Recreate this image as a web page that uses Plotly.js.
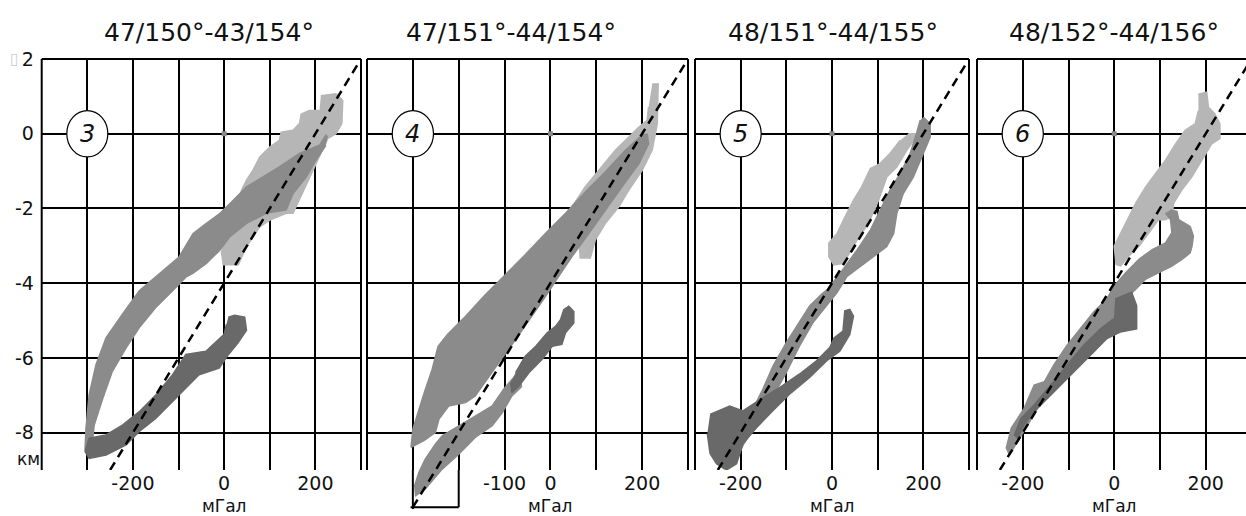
<!DOCTYPE html>
<html>
<head>
<meta charset="utf-8">
<script src="https://cdn.plot.ly/plotly-3.0.1.min.js"></script>
<style>html,body{margin:0;padding:0;background:#fff;}#chart{width:1246px;height:516px;}</style>
</head>
<body>
<div id="chart"></div>
<script>
// ---------- DATA (mGal on x, km on y) ----------
const panelTitles = ['47/150°-43/154°', '47/151°-44/154°', '48/151°-44/155°', '48/152°-44/156°'];
const panelNumbers = ['3', '4', '5', '6'];
const yTickVals = [-8, -6, -4, -2, 0, 2];
const yTickText = ['-8', '-6', '-4', '-2', '0', '2'];
const xGridWide = [-400, -300, -200, -100, 0, 100, 200, 300];
const xGridNarrow = [-300, -200, -100, 0, 100, 200, 300];
const xLabelsP1 = ['-200', '0', '200'];
const xLabelsP2 = ['-100', '0', '200'];
const xLabelsP3 = ['-200', '0', '200'];
const xLabelsP4 = ['-200', '0', '200'];

// reference (dashed) line
const refLineX = [-250, 300];
const refLineY = [-9, 2];
const refLine2X = [-300, 300];
const refLine2Y = [-10, 2];
// small bracket under the second panel
const bracketX = [-300, -300, null, -305, -200, null, -200, -200];
const bracketY = [-9, -10.05, null, -10, -10, null, -10, -9];
// origin point
const originX = [0];
const originY = [0];

// Panel "3"
const p1LightX = [212,245,260,258,245,227,151,136,100,78,49,31,-2,-6,12,38,49,63,78,100,121,125,151,165,169,187,209];
const p1LightY = [1.02,1.07,0.89,0.27,0,-0.13,-2.13,-2.13,-2.31,-2.49,-3.02,-3.51,-3.51,-3.16,-2.67,-1.51,-1.24,-0.98,-0.62,-0.36,-0.18,0.04,0.09,0.27,0.53,0.62,0.62];
const p1MidX = [227,223,209,165,121,85,49,20,-9,-39,-68,-99,-150,-186,-223,-259,-281,-296,-303,-305,-298,-288,-285,-266,-245,-215,-186,-150,-113,-84,-68,-39,-9,12,49,92,136,151,180,201,223];
const p1MidY = [-0.09,-0.04,-0.31,-0.53,-0.89,-1.16,-1.42,-1.78,-2.13,-2.40,-2.67,-3.30,-3.84,-4.20,-4.83,-5.46,-6.18,-6.99,-7.89,-8.45,-8.55,-8.15,-7.80,-7.08,-6.36,-5.73,-5.19,-4.65,-4.20,-3.84,-3.73,-3.47,-3.11,-2.76,-2.40,-2.13,-2.04,-1.60,-1.16,-0.71,-0.31];
const p1DarkX = [9,23,45,49,30,10,-11,-55,-99,-150,-186,-215,-259,-296,-305,-296,-259,-223,-186,-150,-113,-84,-40,0,5];
const p1DarkY = [-4.91,-4.86,-4.91,-5.26,-5.60,-5.90,-6.27,-6.45,-6.99,-7.62,-7.97,-8.33,-8.60,-8.69,-8.50,-8.15,-8.06,-7.80,-7.44,-6.99,-6.45,-5.91,-5.82,-5.37,-5.10];

// Panel "4"
const p2LightX = [222,235,233,222,200,171,149,120,98,87,65,62,33,47,76,105,142,171,193,211,214];
const p2LightY = [1.33,1.33,0.27,-0.44,-0.98,-1.51,-1.96,-2.40,-2.84,-3.33,-3.33,-2.84,-2.31,-1.96,-1.42,-0.98,-0.44,-0.09,0.18,0.36,0.71];
const p2MidX = [203,164,120,76,33,-11,-55,-98,-142,-185,-225,-245,-258,-275,-289,-300,-304,-276,-251,-243,-222,-185,-164,-134,-105,-76,-40,-11,18,47,84,120,156,193,214,211];
const p2MidY = [0,-0.44,-1.02,-1.56,-2.13,-2.67,-3.24,-3.78,-4.31,-4.89,-5.38,-5.69,-6.31,-6.93,-7.47,-7.91,-8.40,-8.22,-8.0,-7.64,-7.29,-7.20,-7.02,-6.49,-6.0,-5.51,-4.89,-4.36,-3.82,-3.29,-2.67,-2.04,-1.42,-0.80,-0.27,0];
const p2BandX = [-62,-84,-102,-127,-164,-200,-236,-251,-273,-287,-296,-294,-273,-236,-200,-164,-127,-105,-84,-62];
const p2BandY = [-6.31,-6.58,-6.84,-7.29,-7.56,-7.82,-8.09,-8.31,-8.71,-9.07,-9.42,-9.69,-9.51,-8.98,-8.58,-8.13,-7.82,-7.47,-7.02,-6.76];
const p2DarkX = [-76,-55,-32,-7,11,22,29,40,51,51,33,25,4,-18,-47,-69,-84,-87];
const p2DarkY = [-6.4,-5.96,-5.69,-5.33,-5.16,-4.98,-4.71,-4.62,-4.76,-5.07,-5.33,-5.64,-5.69,-6.04,-6.40,-6.76,-6.93,-6.67];

// Panel "5"
const p3LightX = [167,185,182,164,142,120,102,80,55,25,4,-7,-7,11,25,47,65,84,105,127,149];
const p3LightY = [0,0,-0.13,-0.44,-0.89,-1.16,-1.78,-2.40,-2.84,-3.47,-3.51,-3.29,-2.93,-2.67,-2.31,-1.78,-1.42,-0.93,-0.80,-0.53,-0.18];
const p3MidX = [193,185,171,149,127,105,84,55,18,-11,-23,-49,-78,-100,-129,-151,-173,-202,-224,-238,-216,-195,-165,-136,-100,-71,-42,-12,11,33,62,91,120,135,142,156,178,200,215,215,200];
const p3MidY = [0.36,0,-0.53,-1.07,-1.51,-2.04,-2.58,-3.11,-3.73,-4.18,-4.30,-4.61,-5.15,-5.59,-6.21,-6.83,-7.36,-7.99,-8.61,-8.96,-8.87,-8.34,-7.72,-7.19,-6.39,-5.68,-5.06,-4.61,-4.25,-3.82,-3.56,-3.29,-3.02,-2.67,-2.13,-1.60,-1.16,-0.53,-0.09,0.27,0.44];
const p3DarkX = [-267,-224,-195,-151,-114,-71,-34,-5,5,24,28,39,47,39,17,-12,-49,-93,-129,-165,-195,-209,-231,-253,-267,-273];
const p3DarkY = [-7.51,-7.29,-7.42,-7.06,-6.79,-6.43,-6.08,-5.72,-5.46,-5.28,-4.74,-4.70,-4.88,-5.37,-5.82,-6.08,-6.52,-6.97,-7.41,-7.86,-8.30,-8.83,-9.0,-8.83,-8.56,-8.03];

// Panel "6"
const p4LightX = [184,202,206,220,231,231,213,191,170,148,130,126,112,97,76,54,32,14,4,0,11,25,47,69,90,112,134,155,177,184];
const p4LightY = [1.06,1.11,0.71,0.53,0.27,-0.13,-0.27,-0.71,-1.15,-1.50,-1.86,-2.21,-2.30,-2.30,-2.65,-3.01,-3.27,-3.54,-3.50,-3.01,-2.74,-2.39,-1.86,-1.42,-1.06,-0.71,-0.27,0.09,0.27,0.62];
const p4MidX = [123,137,141,166,173,170,166,148,126,97,69,47,25,6,-23,-52,-81,-110,-139,-168,-189,-211,-229,-236,-225,-197,-175,-153,-132,-103,-74,-45,-16,0,25,54,83,112,126,123,112];
const p4MidY = [-2.04,-2.08,-2.30,-2.48,-2.74,-3.01,-3.19,-3.36,-3.54,-3.72,-3.89,-4.16,-4.42,-4.86,-5.22,-5.57,-6.02,-6.46,-6.90,-7.35,-7.79,-8.23,-8.59,-8.41,-7.88,-7.35,-6.73,-6.64,-6.19,-5.66,-5.22,-4.77,-4.42,-4.07,-3.72,-3.36,-3.10,-2.92,-2.65,-2.30,-2.12];
const p4DarkX = [2,38,49,49,13,-16,-45,-81,-117,-146,-175,-197,-211,-218,-204,-175,-139,-103,-67,-30,-1];
const p4DarkY = [-4.42,-4.24,-4.60,-5.22,-5.31,-5.48,-5.84,-6.28,-6.73,-7.08,-7.44,-7.79,-8.15,-8.06,-7.62,-7.26,-6.73,-6.19,-5.66,-5.22,-4.95];

// ---------- STYLE ----------
const FONT = 'DejaVu Sans, Verdana, sans-serif';
const LIGHT = '#b6b6b6', MID = '#8b8b8b', DARK = '#696969';

function blob(x, y, color, xa, ya) {
  return {x: x, y: y, xaxis: xa, yaxis: ya, type: 'scatter', mode: 'lines', fill: 'toself',
          fillcolor: color, line: {color: color, width: 1.5}, hoverinfo: 'skip'};
}
function dashed(x, y, xa, ya) {
  return {x: x, y: y, xaxis: xa, yaxis: ya, type: 'scatter', mode: 'lines',
          line: {color: '#000', width: 2.5, dash: '9px,6px'}, hoverinfo: 'skip'};
}
function origin(xa, ya) {
  return {x: originX, y: originY, xaxis: xa, yaxis: ya, type: 'scatter', mode: 'markers',
          marker: {symbol: 'square', size: 5, color: '#8a8a8a'}, hoverinfo: 'skip'};
}

const traces = [
  blob(p1LightX, p1LightY, LIGHT, 'x', 'y'),
  blob(p1MidX, p1MidY, MID, 'x', 'y'),
  blob(p1DarkX, p1DarkY, DARK, 'x', 'y'),
  origin('x', 'y'),
  dashed(refLineX, refLineY, 'x', 'y'),

  blob(p2LightX, p2LightY, LIGHT, 'x5', 'y5'),
  blob(p2MidX, p2MidY, MID, 'x5', 'y5'),
  blob(p2BandX, p2BandY, MID, 'x5', 'y5'),
  blob(p2DarkX, p2DarkY, DARK, 'x5', 'y5'),
  origin('x5', 'y5'),
  {x: bracketX, y: bracketY, xaxis: 'x5', yaxis: 'y5', type: 'scatter', mode: 'lines',
   line: {color: '#000', width: 2}, connectgaps: false, hoverinfo: 'skip'},
  dashed(refLine2X, refLine2Y, 'x5', 'y5'),

  blob(p3LightX, p3LightY, LIGHT, 'x3', 'y3'),
  blob(p3MidX, p3MidY, MID, 'x3', 'y3'),
  blob(p3DarkX, p3DarkY, DARK, 'x3', 'y3'),
  origin('x3', 'y3'),
  dashed(refLineX, refLineY, 'x3', 'y3'),

  blob(p4LightX, p4LightY, LIGHT, 'x4', 'y4'),
  blob(p4MidX, p4MidY, MID, 'x4', 'y4'),
  blob(p4DarkX, p4DarkY, DARK, 'x4', 'y4'),
  origin('x4', 'y4'),
  dashed(refLineX, refLineY, 'x4', 'y4')
];

const W = 1246, H = 516, MT = 59;
const plotH = H - MT;
const yBottomPx = 470;
const yDom = [(H - yBottomPx) / plotH, 1];
const domP1 = [41.7 / W, 361 / W];
const domP2 = [367 / W, 688 / W];
const domP3 = [695 / W, 969 / W];
const domP4 = [977 / W, 1];

function xAxis(domain, range, grid, labels, anchor) {
  return {
    domain: domain, range: range, anchor: anchor,
    tickvals: grid,
    ticktext: grid.map(v => labels.indexOf(String(v)) >= 0 ? String(v) : ''),
    showgrid: true, gridcolor: '#000', gridwidth: 2, zeroline: false, showline: false,
    ticks: '',
    tickfont: {family: FONT, size: 19, color: '#111'}, fixedrange: true
  };
}
function yAxis(anchor, showLabels) {
  return {
    domain: yDom, range: [-9, 2], anchor: anchor,
    tickvals: yTickVals, ticktext: yTickText, showticklabels: showLabels,
    showgrid: true, gridcolor: '#000', gridwidth: 2, zeroline: false, showline: false,
    ticks: 'outside', ticklen: 3, tickcolor: 'rgba(0,0,0,0)',
    tickfont: {family: FONT, size: 19, color: '#111'}, fixedrange: true
  };
}

const shapes = [];
const axisIds = ['', '2', '3', '4'];
axisIds.forEach((s, i) => {
  const xr = 'x' + s + ' domain', yr = 'y' + s + ' domain';
  const ln = {color: '#000', width: 2};
  shapes.push({type: 'line', xref: xr, yref: yr, x0: 0, x1: 0, y0: 0, y1: 1, line: ln});
  shapes.push({type: 'line', xref: xr, yref: yr, x0: 0, x1: 1, y0: 1, y1: 1, line: ln});
  if (i < 3) shapes.push({type: 'line', xref: xr, yref: yr, x0: 1, x1: 1, y0: 0, y1: 1, line: ln});
});
// numbered circles
const circleCenters = [[-300, 'x', 'y'], [-300, 'x2', 'y2'], [-200, 'x3', 'y3'], [-200, 'x4', 'y4']];
circleCenters.forEach(c => {
  shapes.push({type: 'circle', xref: c[1], yref: c[2], x0: c[0] - 45, x1: c[0] + 45, y0: -0.62, y1: 0.62,
               fillcolor: '#fff', line: {color: '#000', width: 1.2}});
});

const annotations = [];
const titleX = [209, 511, 833, 1114];
panelTitles.forEach((t, i) => {
  annotations.push({text: t, xref: 'paper', yref: 'paper', x: titleX[i] / W, y: (H - 32) / plotH,
    xanchor: 'center', yanchor: 'middle', showarrow: false, font: {family: FONT, size: 25, color: '#111'}});
});
circleCenters.forEach((c, i) => {
  annotations.push({text: '<i>' + panelNumbers[i] + '</i>', xref: c[1], yref: c[2], x: c[0], y: 0,
    xanchor: 'center', yanchor: 'middle', showarrow: false, font: {family: FONT, size: 24, color: '#111'}});
});
['x', 'x2', 'x3', 'x4'].forEach(xa => {
  annotations.push({text: 'мГал', xref: xa, yref: 'paper', x: 0, y: (H - 506) / plotH,
    xanchor: 'center', yanchor: 'middle', showarrow: false, font: {family: FONT, size: 17, color: '#111'}});
});
annotations.push({text: 'км', xref: 'paper', yref: 'paper', x: 28 / W, y: (H - 459) / plotH,
  xanchor: 'center', yanchor: 'middle', showarrow: false, font: {family: FONT, size: 17, color: '#111'}});
// faint missing-glyph box in front of the top "2" label
annotations.push({text: '▯', xref: 'paper', yref: 'paper', x: 14 / W, y: (H - 58) / plotH,
  xanchor: 'center', yanchor: 'middle', showarrow: false, font: {family: FONT, size: 16, color: '#cfcfcf'}});

const layout = {
  width: W, height: H,
  margin: {l: 0, r: 0, t: MT, b: 0, pad: 0},
  paper_bgcolor: '#fff', plot_bgcolor: 'rgba(0,0,0,0)',
  showlegend: false,
  font: {family: FONT, size: 18, color: '#111'},
  xaxis: xAxis(domP1, [-400, 300], xGridWide, xLabelsP1, 'y'),
  yaxis: yAxis('x', true),
  xaxis2: xAxis(domP2, [-400, 300], xGridWide, xLabelsP2, 'y2'),
  yaxis2: yAxis('x2', false),
  xaxis3: xAxis(domP3, [-300, 300], xGridNarrow, xLabelsP3, 'y3'),
  yaxis3: yAxis('x3', false),
  xaxis4: xAxis(domP4, [-300, 288], xGridNarrow, xLabelsP4, 'y4'),
  yaxis4: yAxis('x4', false),
  xaxis5: {domain: domP2, range: [-400, 300], anchor: 'y5', visible: false, fixedrange: true},
  yaxis5: {domain: [0, 1], range: [2 - plotH / 37.35, 2], anchor: 'x5', visible: false, fixedrange: true},
  shapes: shapes,
  annotations: annotations
};

Plotly.newPlot('chart', traces, layout, {displayModeBar: false, staticPlot: true});
</script>
</body>
</html>
